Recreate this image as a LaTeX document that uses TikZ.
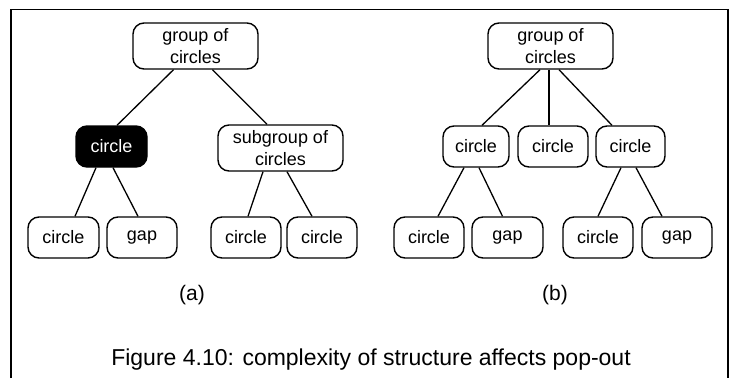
\documentclass[tikz,border=0pt]{standalone}
\usepackage{fontspec}
\setmainfont{Liberation Sans}

\begin{document}
\begin{tikzpicture}[x=1pt, y=-1pt, line width=1.3pt,
    box/.style={draw, line width=1.4pt, rounded corners=11pt, align=center,
      inner sep=0pt, minimum width=70pt, minimum height=41pt,
      font=\fontsize{18}{22}\selectfont},
    wide/.style={box, minimum width=125pt, minimum height=46pt},
    dark/.style={box, fill=black, text=white},
    lbl/.style={font=\fontsize{21}{24}\selectfont}]
  \useasboundingbox (0,0) rectangle (733,378);

  % 外框，下边不封口
  \draw[line width=1.5pt] (11,378) -- (11,9.5) -- (728,9.5) -- (728,378);

  % (a) 两层结构
  \node[wide] (ta) at (195.5,46) {group of\\circles};
  \node[dark, minimum width=71pt] (ca) at (111.5,146.5) {circle};
  \node[wide] (sg) at (280.5,148) {subgroup of\\circles};
  \node[box, minimum width=71pt] (la1) at (63.5,237.5) {circle};
  \node[box] (la2) at (142,237.5) {gap};
  \node[box] (la3) at (246,237.5) {circle};
  \node[box] (la4) at (322,237.5) {circle};

  \draw ([xshift=-22pt]ta.south) -- ([xshift=5.5pt]ca.north);
  \draw ([xshift=17pt]ta.south) -- ([xshift=-13.5pt]sg.north);
  \draw ([xshift=-15.5pt]ca.south) -- ([xshift=11.5pt]la1.north);
  \draw ([xshift=1.5pt]ca.south) -- ([xshift=-4pt]la2.north);
  \draw ([xshift=-17.5pt]sg.south) -- ([xshift=2pt]la3.north);
  \draw ([xshift=6.5pt]sg.south) -- ([xshift=-10pt]la4.north);

  % (b) 三个分支
  \node[wide] (tb) at (550.5,46) {group of\\circles};
  \node[box, minimum width=66pt] (mb1) at (476,146.5) {circle};
  \node[box] (mb2) at (553,146.5) {circle};
  \node[box, minimum width=69pt] (mb3) at (630.5,146.5) {circle};
  \node[box] (lb1) at (429,237.5) {circle};
  \node[box, minimum width=71pt] (lb2) at (507.5,237.5) {gap};
  \node[box] (lb3) at (598,237.5) {circle};
  \node[box] (lb4) at (677,237.5) {gap};

  \draw ([xshift=-10.5pt]tb.south) -- ([xshift=6pt]mb1.north);
  \draw ([xshift=-1.5pt]tb.south) -- ([xshift=-1.5pt]tb.south |- mb2.north);
  \draw ([xshift=8.5pt]tb.south) -- ([xshift=-18.5pt]mb3.north);
  \draw ([xshift=-12pt]mb1.south) -- ([xshift=9pt]lb1.north);
  \draw ([xshift=3pt]mb1.south) -- ([xshift=-5pt]lb2.north);
  \draw ([xshift=-9.5pt]mb3.south) -- (lb3.north);
  \draw ([xshift=5.5pt]mb3.south) -- ([xshift=-15pt]lb4.north);

  % 标注
  \node[lbl] (lbla) at (192,295) {(a)};
  \node[lbl] (lblb) at (555,295) {(b)};
  \node[lbl, font=\fontsize{23}{26}\selectfont] (cap) at (371,360)
    {Figure 4.10: complexity of structure affects pop-out};
\end{tikzpicture}
\end{document}
